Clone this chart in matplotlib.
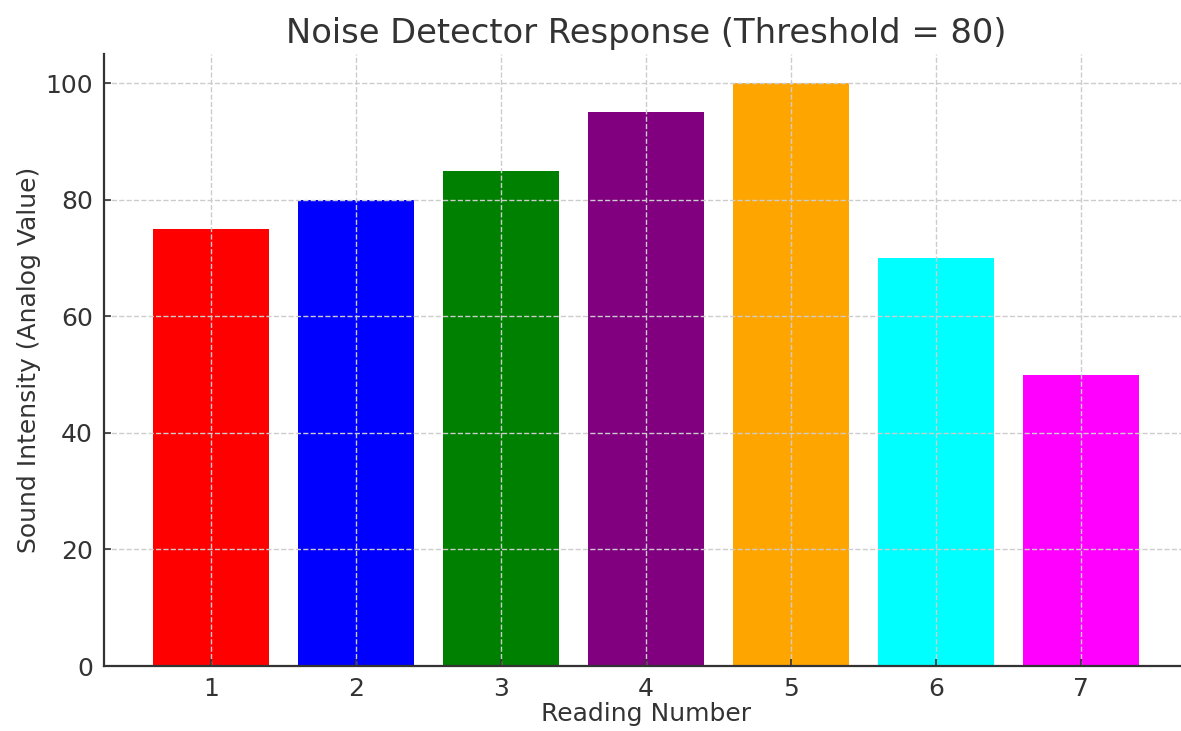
import matplotlib
matplotlib.use("Agg")
import matplotlib.pyplot as plt

readings = [1, 2, 3, 4, 5, 6, 7]
values = [75, 80, 85, 95, 100, 70, 50]
colors = ["red", "blue", "green", "purple", "orange", "cyan", "magenta"]
title = "Noise Detector Response (Threshold = 80)"

W, H, DPI = 1181, 731, 100
fig = plt.figure(figsize=(W / DPI, H / DPI), dpi=DPI)
left, bottom, top = 104, 666, 54
axw = 1084
ax = fig.add_axes([left / W, (H - bottom) / H, axw / W, (bottom - top) / H])

text_col = "#333333"
ax.bar(readings, values, color=colors, width=0.8, zorder=2)
ax.set_ylim(0, 105)
ax.set_xlim(0.26, 7.74)
ax.set_xticks(readings)
ax.set_yticks([0, 20, 40, 60, 80, 100])
ax.grid(True, linestyle="--", color="#cccccc", linewidth=1.0, zorder=3)
ax.set_axisbelow(False)
for s in ["top", "right"]:
    ax.spines[s].set_visible(False)
for s in ["left", "bottom"]:
    ax.spines[s].set_color(text_col)
    ax.spines[s].set_linewidth(1.6)
    ax.spines[s].set_zorder(4)
ax.tick_params(direction="in", length=5, width=1.2, colors=text_col,
               labelsize=18, pad=8)
ax.set_title(title, fontsize=24.3, color=text_col, pad=8)
ax.set_xlabel("Reading Number", fontsize=18, color=text_col, labelpad=1)
ax.set_ylabel("Sound Intensity (Analog Value)", fontsize=18, color=text_col, labelpad=3)

fig.savefig("out.png", dpi=DPI)
